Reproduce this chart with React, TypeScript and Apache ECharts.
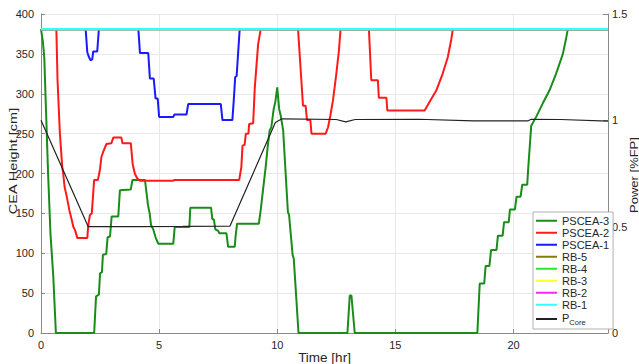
import React, { useEffect, useRef } from 'react';
import * as echarts from 'echarts';

const FONT = '"Liberation Sans Narrow", "Liberation Sans", Arial, Helvetica, sans-serif';
const FONT_REG = '"Liberation Sans", Arial, Helvetica, sans-serif';

const seriesNames = ['PSCEA-3', 'PSCEA-2', 'PSCEA-1', 'RB-5', 'RB-4', 'RB-3', 'RB-2', 'RB-1', 'PCore'];
const seriesColors = ['#1a8c1a', '#ff1a1a', '#1a1aff', '#808000', '#22ee22', '#ffff22', '#ff22ff', '#33ffff', '#222222'];

const pscea3: number[][] = [
  [0, 381], [0.08, 365], [0.14, 345], [0.2, 290], [0.3, 200], [0.4, 125], [0.52, 71], [0.63, 0],
  [2.25, 0], [2.33, 46], [2.45, 48], [2.5, 75], [2.58, 76], [2.62, 98], [2.76, 99], [2.82, 120],
  [2.92, 121], [2.99, 146], [3.27, 146], [3.34, 179], [3.8, 180], [3.87, 192], [4.4, 192],
  [4.47, 175], [4.53, 160], [4.6, 150], [4.66, 135], [4.75, 130], [4.85, 120], [4.96, 112],
  [5.6, 112], [5.66, 133], [6.28, 133], [6.32, 157], [7.2, 157], [7.25, 143], [7.32, 142],
  [7.38, 130], [7.5, 128], [7.55, 125], [7.85, 125], [7.92, 108], [8.2, 108], [8.24, 122],
  [8.3, 137], [9.22, 137], [9.3, 154], [9.4, 180], [9.51, 208], [9.6, 235], [9.68, 254],
  [9.75, 258], [9.85, 281], [9.92, 290], [10.0, 308], [10.08, 281], [10.15, 272], [10.25, 254],
  [10.45, 152], [10.5, 148], [10.65, 98], [10.7, 93], [10.9, 0], [12.97, 0], [13.07, 47],
  [13.14, 47], [13.28, 0], [18.47, 0], [18.57, 62], [18.76, 62], [18.82, 84], [18.98, 84],
  [19.05, 104], [19.28, 104], [19.34, 122], [19.54, 122], [19.6, 139], [19.8, 139], [19.85, 155],
  [20.06, 155], [20.13, 171], [20.3, 171], [20.37, 186], [20.58, 186], [20.62, 205], [20.75, 260],
  [20.96, 271], [21.24, 288], [21.52, 304], [21.8, 325], [22.09, 350], [22.23, 370], [22.3, 381],
  [24, 381],
];

const pscea2: number[][] = [
  [0, 381], [0.65, 381], [0.7, 317], [0.8, 250], [0.9, 208], [0.94, 200], [1.0, 183], [1.09, 171],
  [1.2, 154], [1.3, 142], [1.37, 133], [1.44, 129], [1.54, 119], [1.96, 119], [2.0, 135],
  [2.07, 148], [2.15, 150], [2.25, 192], [2.41, 192], [2.49, 204], [2.56, 221], [2.63, 227],
  [2.77, 237], [2.98, 238], [3.06, 245], [3.4, 245], [3.45, 238], [3.8, 238], [3.88, 212],
  [3.97, 200], [4.07, 194], [4.19, 191], [5.6, 191], [5.65, 192], [8.39, 192], [8.48, 208],
  [8.53, 235], [8.62, 236], [8.67, 250], [8.78, 250], [8.81, 262], [8.98, 263], [9.05, 308],
  [9.19, 362], [9.3, 381], [10.88, 381], [11.09, 285], [11.2, 285], [11.26, 267], [11.4, 267],
  [11.45, 250], [12.05, 250], [12.15, 258], [12.25, 273], [12.36, 292], [12.5, 325], [12.61, 354],
  [12.68, 381], [13.88, 381], [13.98, 317], [14.26, 317], [14.3, 295], [14.62, 295], [14.66, 279],
  [16.24, 279], [16.45, 290], [16.73, 304], [17.0, 325], [17.22, 346], [17.36, 367], [17.43, 381],
  [24, 381],
];

const pscea1: number[][] = [
  [0, 381], [1.89, 381], [1.96, 352], [2.03, 346], [2.1, 342], [2.17, 343], [2.21, 353],
  [2.38, 353], [2.45, 381], [4.12, 381], [4.19, 351], [4.54, 351], [4.61, 319], [4.77, 319],
  [4.85, 294], [4.94, 294], [5.0, 271], [5.6, 271], [5.65, 274], [6.16, 274], [6.23, 287],
  [7.61, 287], [7.68, 267], [8.1, 267], [8.16, 292], [8.22, 321], [8.28, 322], [8.41, 381],
  [24, 381],
];

const rbFull: number[][] = [[0, 381], [24, 381]];

const pCore: number[][] = [
  [0, 1.0], [2.0, 0.5], [4.0, 0.5], [6.0, 0.501], [8.0, 0.503], [9.92, 0.99], [10.2, 1.007],
  [12.5, 1.004], [12.9, 0.993], [13.3, 1.004], [16.0, 1.005], [18.3, 0.997], [20.6, 0.997],
  [20.75, 1.005], [22.0, 1.004], [24.0, 0.996],
];

const seriesData = [pscea3, pscea2, pscea1, rbFull, rbFull, rbFull, rbFull, rbFull, pCore];

export default function App() {
  const ref = useRef<HTMLDivElement>(null);
  useEffect(() => {
    const chart = echarts.init(ref.current!, null, { renderer: 'svg' });
    const axisColor = '#8a8a8a';
    const labelColor = '#262626';
    chart.setOption({
      animation: false,
      backgroundColor: '#ffffff',
      textStyle: { fontFamily: FONT },
      grid: { left: 41, right: 31, top: 14, bottom: 31, containLabel: false, outerBoundsMode: 'none' },
      xAxis: {
        type: 'value', min: 0, max: 24, interval: 5,
        name: 'Time [hr]', nameLocation: 'middle', nameGap: 17, nameMoveOverlap: false,
        nameTextStyle: { fontSize: 13.5, color: labelColor, fontFamily: FONT },
        axisLine: { show: true, lineStyle: { color: axisColor, width: 1 } },
        axisTick: { show: true, inside: true, length: 4, lineStyle: { color: axisColor } },
        axisLabel: { fontSize: 11, color: labelColor, margin: 6, showMaxLabel: false, fontFamily: FONT },
        splitLine: { show: true, lineStyle: { color: '#e8e8e8', width: 1 } },
      },
      yAxis: [
        {
          type: 'value', min: 0, max: 400, interval: 50, position: 'left',
          axisLine: { show: true, lineStyle: { color: axisColor, width: 1 } },
          axisTick: { show: true, inside: true, length: 4, lineStyle: { color: axisColor } },
          axisLabel: { fontSize: 11, color: labelColor, margin: 7, fontFamily: FONT },
          splitLine: { show: true, lineStyle: { color: '#e8e8e8', width: 1 } },
        },
        {
          type: 'value', min: 0, max: 1.5, interval: 0.5, position: 'right',
          axisLine: { show: true, lineStyle: { color: axisColor, width: 1 } },
          axisTick: { show: true, inside: true, length: 5, lineStyle: { color: axisColor } },
          axisLabel: { fontSize: 11, color: labelColor, margin: 4, fontFamily: FONT },
          splitLine: { show: false },
        },
      ],
      graphic: [
        {
          type: 'text', x: 13, y: 161, rotation: Math.PI / 2, scaleY: 0.78,
          style: {
            text: 'CEA Height [cm]', fontSize: 14.5, fill: labelColor, fontFamily: FONT_REG,
            align: 'center', verticalAlign: 'middle',
          },
        },
        {
          type: 'text', x: 634, y: 175, rotation: Math.PI / 2, scaleY: 0.78,
          style: {
            text: 'Power [%FP]', fontSize: 13, fill: labelColor, fontFamily: FONT_REG,
            align: 'center', verticalAlign: 'middle',
          },
        },
      ],
      legend: {
        orient: 'vertical', left: 533, top: 212,
        data: seriesNames,
        icon: 'rect',
        itemWidth: 21, itemHeight: 2, itemGap: 0.5,
        padding: [3, 4, 3, 3],
        borderColor: '#b0b0b0', borderWidth: 1, backgroundColor: '#ffffff',
        textStyle: {
          fontSize: 11, color: labelColor, fontFamily: FONT, lineHeight: 11.5,
          rich: {
            p: { fontSize: 11, color: labelColor, fontFamily: FONT, lineHeight: 14, verticalAlign: 'top' },
            sub: { fontSize: 7.5, color: labelColor, fontFamily: FONT, lineHeight: 14, verticalAlign: 'bottom', padding: [7, 0, 0, 0] },
          },
        },
        formatter: (name: string) => (name === 'PCore' ? '{p|P}{sub|Core}' : name),
      },
      series: seriesNames.map((name, i) => ({
        name,
        type: 'line',
        yAxisIndex: name === 'PCore' ? 1 : 0,
        data: seriesData[i],
        symbol: 'none',
        showSymbol: false,
        color: seriesColors[i],
        lineStyle: { color: seriesColors[i], width: name === 'PCore' ? 1.2 : name === 'RB-1' ? 2.2 : 2 },
        z: name === 'RB-1' ? 5 : 3,
      })),
    });
    return () => chart.dispose();
  }, []);
  return (
    <div
      ref={ref}
      style={{ position: 'fixed', left: 0, top: 0, width: 639, height: 364, background: '#ffffff' }}
    />
  );
}
